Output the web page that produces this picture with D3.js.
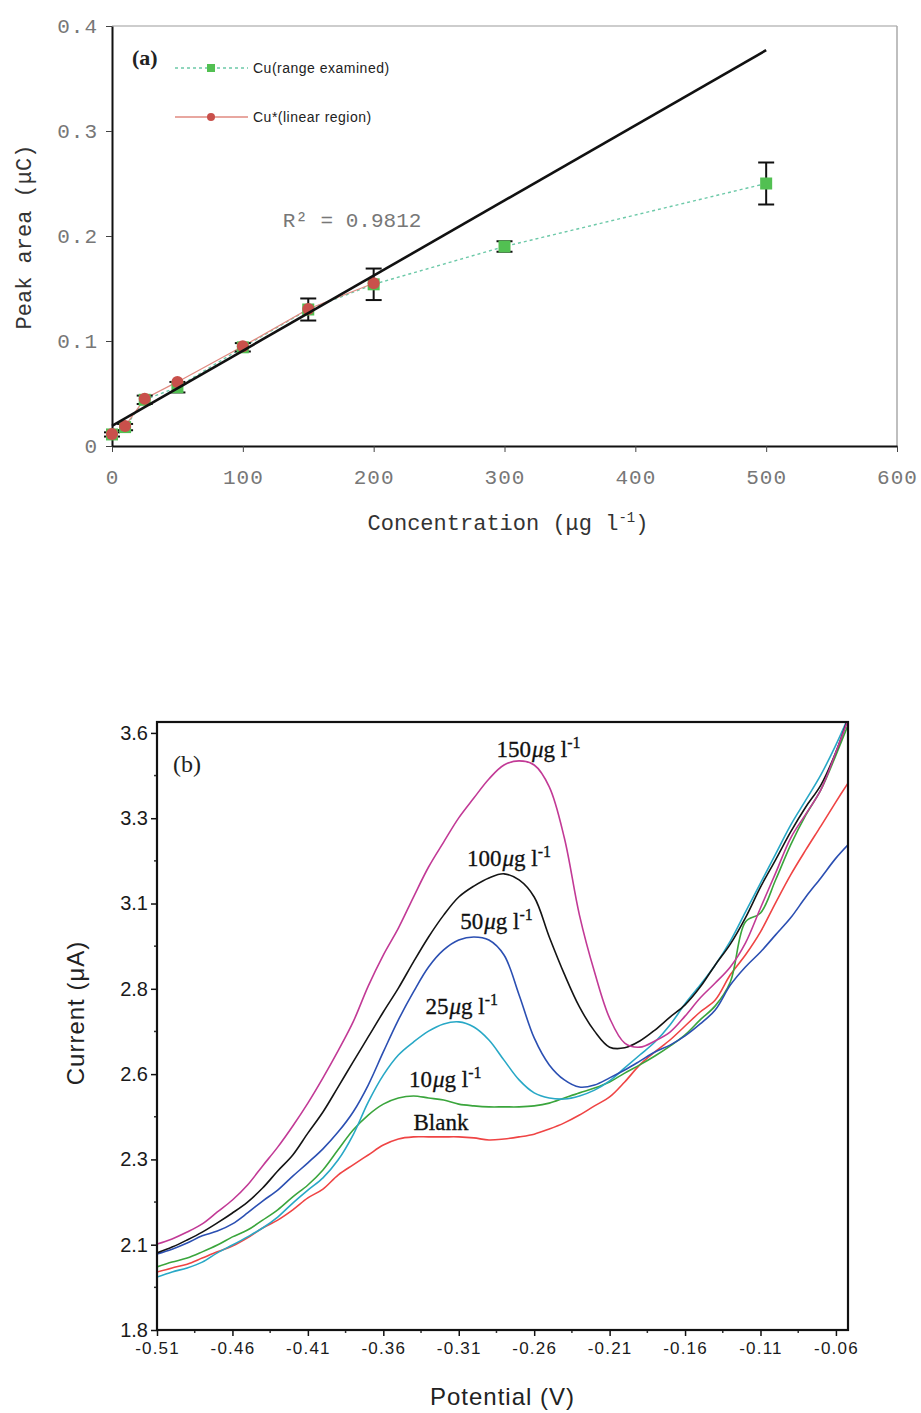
<!DOCTYPE html>
<html>
<head>
<meta charset="utf-8">
<script src="https://cdn.jsdelivr.net/npm/d3@7"></script>
<style>
  body { margin: 0; background: #fff; }
  svg { display: block; }
</style>
</head>
<body>
<div id="chart"></div>
<script>
// ---- (a) calibration: peak area vs concentration ----
const concentration = [0, 10, 25, 50, 100, 150, 200, 300, 500]
const areaExamined = [0.011, 0.018, 0.044, 0.056, 0.094, 0.130, 0.154, 0.190, 0.250]
const areaError = [0.002, 0.003, 0.004, 0.005, 0.004, 0.0105, 0.015, 0.005, 0.020]
const concentrationLinear = [0, 10, 25, 50, 100, 150, 200]
const areaLinear = [0.0115, 0.019, 0.045, 0.061, 0.095, 0.1305, 0.155]
const concTicks = [0, 100, 200, 300, 400, 500, 600]
const areaTicks = [0, 0.1, 0.2, 0.3, 0.4]
const areaTickLabels = ['0', '0.1', '0.2', '0.3', '0.4']

// ---- (b) stripping voltammograms ----
const potential = [-0.51, -0.50, -0.49, -0.48, -0.47, -0.46, -0.45, -0.44, -0.43, -0.42,
  -0.41, -0.40, -0.39, -0.38, -0.37, -0.36, -0.35, -0.34, -0.33, -0.32,
  -0.31, -0.30, -0.29, -0.28, -0.27, -0.26, -0.25, -0.24, -0.23, -0.22,
  -0.21, -0.20, -0.19, -0.18, -0.17, -0.16, -0.15, -0.14, -0.13, -0.12,
  -0.11, -0.10, -0.09, -0.08, -0.07, -0.06, -0.052]
const currentBlank = [1.970, 1.982, 1.993, 2.011, 2.029, 2.046, 2.070, 2.099, 2.122, 2.152,
  2.187, 2.213, 2.254, 2.284, 2.313, 2.342, 2.360, 2.366, 2.366, 2.366,
  2.366, 2.363, 2.357, 2.360, 2.366, 2.374, 2.389, 2.407, 2.430, 2.457,
  2.483, 2.527, 2.577, 2.615, 2.650, 2.691, 2.732, 2.767, 2.841, 2.899,
  2.967, 3.052, 3.134, 3.207, 3.277, 3.348, 3.403]
const current10 = [1.985, 1.999, 2.011, 2.029, 2.049, 2.073, 2.093, 2.122, 2.152, 2.190,
  2.225, 2.269, 2.328, 2.386, 2.430, 2.462, 2.480, 2.486, 2.480, 2.474,
  2.462, 2.457, 2.454, 2.454, 2.454, 2.457, 2.465, 2.480, 2.495, 2.509,
  2.527, 2.553, 2.577, 2.603, 2.632, 2.665, 2.709, 2.750, 2.820, 2.996,
  3.022, 3.119, 3.222, 3.309, 3.383, 3.485, 3.573]
const current25 = [1.955, 1.970, 1.982, 1.999, 2.026, 2.049, 2.073, 2.099, 2.131, 2.172,
  2.210, 2.246, 2.298, 2.372, 2.468, 2.547, 2.606, 2.644, 2.676, 2.697,
  2.703, 2.688, 2.650, 2.591, 2.533, 2.495, 2.480, 2.477, 2.486, 2.503,
  2.530, 2.568, 2.606, 2.644, 2.694, 2.756, 2.811, 2.870, 2.940, 3.025,
  3.110, 3.195, 3.280, 3.353, 3.427, 3.515, 3.594]
const current50 = [2.023, 2.037, 2.055, 2.076, 2.090, 2.111, 2.143, 2.178, 2.210, 2.251,
  2.290, 2.331, 2.380, 2.439, 2.518, 2.615, 2.709, 2.791, 2.864, 2.914,
  2.943, 2.952, 2.943, 2.899, 2.782, 2.656, 2.577, 2.533, 2.512, 2.518,
  2.539, 2.562, 2.588, 2.615, 2.635, 2.662, 2.697, 2.738, 2.811, 2.864,
  2.908, 2.958, 3.008, 3.069, 3.125, 3.183, 3.222]
const current100 = [2.026, 2.043, 2.064, 2.087, 2.114, 2.143, 2.175, 2.216, 2.266, 2.313,
  2.377, 2.439, 2.512, 2.586, 2.659, 2.732, 2.802, 2.879, 2.952, 3.016,
  3.069, 3.101, 3.125, 3.137, 3.119, 3.069, 2.952, 2.843, 2.747, 2.676,
  2.629, 2.627, 2.647, 2.679, 2.717, 2.753, 2.805, 2.870, 2.931, 3.008,
  3.098, 3.178, 3.260, 3.333, 3.397, 3.494, 3.594]
const current150 = [2.052, 2.067, 2.087, 2.111, 2.146, 2.181, 2.225, 2.281, 2.336, 2.398,
  2.465, 2.539, 2.618, 2.703, 2.808, 2.899, 2.978, 3.069, 3.157, 3.230,
  3.301, 3.359, 3.415, 3.456, 3.468, 3.456, 3.392, 3.242, 3.016, 2.849,
  2.714, 2.641, 2.629, 2.647, 2.673, 2.720, 2.773, 2.817, 2.864, 2.934,
  3.037, 3.139, 3.242, 3.312, 3.383, 3.494, 3.588]
const potentialTicks = [-0.51, -0.46, -0.41, -0.36, -0.31, -0.26, -0.21, -0.16, -0.11, -0.06]
const currentTicks = [1.8, 2.05, 2.3, 2.55, 2.8, 3.05, 3.3, 3.55]
const currentTickLabels = ['1.8', '2.1', '2.3', '2.6', '2.8', '3.1', '3.3', '3.6']

const mono = '"Liberation Mono", "Courier New", monospace'
const sans = '"Liberation Sans", Arial, sans-serif'
const serif = '"Liberation Serif", "Times New Roman", serif'

const svg = d3.select('#chart').append('svg')
  .attr('width', 921)
  .attr('height', 1413)

svg.append('rect').attr('width', 921).attr('height', 1413).attr('fill', '#fff')

drawCalibration(svg.append('g').attr('class', 'panel-a'))
drawVoltammograms(svg.append('g').attr('class', 'panel-b'))

function drawCalibration(g) {
  const x = d3.scaleLinear().domain([0, 600]).range([112, 897])
  const y = d3.scaleLinear().domain([0, 0.4]).range([446, 26])

  // light frame on top / right
  g.append('line')
    .attr('x1', x(0)).attr('x2', x(600))
    .attr('y1', y(0.4)).attr('y2', y(0.4))
    .attr('stroke', '#9c9c9c').attr('stroke-width', 1.2)
  g.append('line')
    .attr('x1', x(600)).attr('x2', x(600))
    .attr('y1', y(0.4)).attr('y2', y(0))
    .attr('stroke', '#aaa').attr('stroke-width', 1.5)

  const gx = g.append('g')
    .attr('transform', 'translate(0,' + y(0) + ')')
    .call(d3.axisBottom(x).tickValues(concTicks).tickSize(6).tickSizeOuter(0))
  gx.select('.domain').attr('stroke', '#111').attr('stroke-width', 2)
  gx.selectAll('.tick line').attr('stroke', '#444')
  gx.selectAll('.tick text')
    .attr('font-family', mono).attr('font-size', 21).attr('letter-spacing', 1)
    .attr('fill', '#777').attr('y', 23)

  const gy = g.append('g')
    .attr('transform', 'translate(' + x(0) + ',0)')
    .call(d3.axisLeft(y).tickValues(areaTicks).tickSize(6).tickSizeOuter(0)
      .tickFormat((d, i) => areaTickLabels[i]))
  gy.select('.domain').attr('stroke', '#111').attr('stroke-width', 2)
  gy.selectAll('.tick line').attr('stroke', '#444')
  gy.selectAll('.tick text')
    .attr('font-family', mono).attr('font-size', 21).attr('letter-spacing', 1)
    .attr('fill', '#777').attr('x', -14)

  // axis titles
  const xt = g.append('text')
    .attr('x', 508).attr('y', 530)
    .attr('text-anchor', 'middle')
    .attr('font-family', mono).attr('font-size', 22).attr('fill', '#333')
  xt.append('tspan').text('Concentration (μg l')
  xt.append('tspan').attr('dy', -8).attr('font-size', 14).text('-1')
  xt.append('tspan').attr('dy', 8).text(')')

  g.append('text')
    .attr('transform', 'translate(31,237) rotate(-90)')
    .attr('text-anchor', 'middle')
    .attr('font-family', mono).attr('font-size', 22).attr('fill', '#333')
    .text('Peak area (μC)')

  const examined = concentration.map((c, i) => ({ c, v: areaExamined[i], e: areaError[i] }))
  const linear = concentrationLinear.map((c, i) => ({ c, v: areaLinear[i] }))
  const line = d3.line().x(d => x(d.c)).y(d => y(d.v))

  g.append('path').datum(examined)
    .attr('d', line).attr('fill', 'none')
    .attr('stroke', '#6cc9a8').attr('stroke-width', 1.4)
    .attr('stroke-dasharray', '3,3')

  g.append('path').datum(linear)
    .attr('d', line).attr('fill', 'none')
    .attr('stroke', '#e08a80').attr('stroke-width', 1.3)

  // error bars
  const err = g.append('g').attr('stroke', '#111').attr('stroke-width', 2)
  examined.forEach(d => {
    err.append('line')
      .attr('x1', x(d.c)).attr('x2', x(d.c))
      .attr('y1', y(d.v - d.e)).attr('y2', y(d.v + d.e))
    ;[d.v - d.e, d.v + d.e].forEach(v => {
      err.append('line')
        .attr('x1', x(d.c) - 8).attr('x2', x(d.c) + 8)
        .attr('y1', y(v)).attr('y2', y(v))
    })
  })

  g.selectAll('.sq').data(examined).join('rect')
    .attr('class', 'sq')
    .attr('x', d => x(d.c) - 6).attr('y', d => y(d.v) - 6)
    .attr('width', 12).attr('height', 12)
    .attr('fill', '#52c052')

  g.selectAll('.dot').data(linear).join('circle')
    .attr('class', 'dot')
    .attr('cx', d => x(d.c)).attr('cy', d => y(d.v))
    .attr('r', 6)
    .attr('fill', '#c9504b')

  // least squares trend of the linear region
  const mx = d3.mean(linear, d => d.c)
  const my = d3.mean(linear, d => d.v)
  const slope = d3.sum(linear, d => (d.c - mx) * (d.v - my)) / d3.sum(linear, d => (d.c - mx) ** 2)
  const icpt = my - slope * mx
  g.append('line')
    .attr('x1', x(0)).attr('y1', y(icpt))
    .attr('x2', x(500)).attr('y2', y(icpt + slope * 500))
    .attr('stroke', '#111').attr('stroke-width', 2.6)

  g.append('text')
    .attr('x', x(130.5)).attr('y', y(0.2086))
    .attr('font-family', mono).attr('font-size', 21).attr('fill', '#777')
    .text('R² = 0.9812')

  g.append('text')
    .attr('x', x(15.3)).attr('y', y(0.3629))
    .attr('font-family', serif).attr('font-weight', 'bold').attr('font-size', 22)
    .attr('fill', '#222')
    .text('(a)')

  // legend
  const legend = g.append('g').attr('font-family', sans).attr('font-size', 14).attr('fill', '#222')
  const lg1 = legend.append('g').attr('transform', 'translate(175,68)')
  lg1.append('line').attr('x2', 73).attr('stroke', '#6cc9a8').attr('stroke-width', 1.3).attr('stroke-dasharray', '3,3')
  lg1.append('rect').attr('x', 32).attr('y', -4).attr('width', 8).attr('height', 8).attr('fill', '#52c052')
  lg1.append('text').attr('x', 78).attr('y', 5).attr('letter-spacing', 0.5).text('Cu(range examined)')

  const lg2 = legend.append('g').attr('transform', 'translate(175,117)')
  lg2.append('line').attr('x2', 73).attr('stroke', '#e08a80').attr('stroke-width', 1.3)
  lg2.append('circle').attr('cx', 36).attr('r', 4).attr('fill', '#c9504b')
  lg2.append('text').attr('x', 78).attr('y', 5).attr('letter-spacing', 0.5).text('Cu*(linear region)')
}

function drawVoltammograms(g) {
  const x = d3.scaleLinear().domain([-0.51, -0.052]).range([157, 848])
  const y = d3.scaleLinear().domain([1.8, 3.582]).range([1330, 722])

  const traces = [
    { values: currentBlank, color: '#ef4444' },
    { values: current10, color: '#3aa53c' },
    { values: current25, color: '#28a8c6' },
    { values: current50, color: '#2b4fb2' },
    { values: current100, color: '#141414' },
    { values: current150, color: '#c23a96' }
  ]

  g.append('clipPath').attr('id', 'clip-b')
    .append('rect')
    .attr('x', x.range()[0]).attr('y', y.range()[1])
    .attr('width', x.range()[1] - x.range()[0])
    .attr('height', y.range()[0] - y.range()[1])

  const line = d3.line()
    .x((d, i) => x(potential[i]))
    .y(d => y(d))
    .curve(d3.curveCatmullRom.alpha(0.5))

  g.append('g').attr('clip-path', 'url(#clip-b)')
    .selectAll('path').data(traces).join('path')
    .attr('d', d => line(d.values))
    .attr('fill', 'none')
    .attr('stroke', d => d.color)
    .attr('stroke-width', 1.6)

  // axes
  const gy = g.append('g')
    .attr('transform', 'translate(' + x.range()[0] + ',0)')
    .call(d3.axisLeft(y).tickValues(currentTicks).tickSize(6).tickSizeOuter(0)
      .tickFormat((d, i) => currentTickLabels[i]))
  gy.select('.domain').remove()
  gy.selectAll('.tick line').attr('stroke', '#111').attr('stroke-width', 1.5)
  gy.selectAll('.tick text')
    .attr('font-family', sans).attr('font-size', 20).attr('fill', '#1a1a1a').attr('x', -9)

  const gx = g.append('g')
    .attr('transform', 'translate(0,' + y.range()[0] + ')')
    .call(d3.axisBottom(x).tickValues(potentialTicks).tickSize(6).tickSizeOuter(0)
      .tickFormat(d => d.toFixed(2)))
  gx.select('.domain').remove()
  gx.selectAll('.tick line').attr('stroke', '#111').attr('stroke-width', 1.5)
  gx.selectAll('.tick text')
    .attr('font-family', sans).attr('font-size', 17).attr('letter-spacing', 1.2)
    .attr('fill', '#1a1a1a').attr('y', 12)

  // minor ticks halfway between the labelled ones
  const minorY = currentTicks.slice(0, -1).map((d, i) => (d + currentTicks[i + 1]) / 2)
  const minorX = potentialTicks.slice(0, -1).map((d, i) => (d + potentialTicks[i + 1]) / 2)
  g.append('g').selectAll('line').data(minorY).join('line')
    .attr('x1', x.range()[0] - 3).attr('x2', x.range()[0])
    .attr('y1', d => y(d)).attr('y2', d => y(d))
    .attr('stroke', '#333').attr('stroke-width', 1.5)
  g.append('g').selectAll('line').data(minorX).join('line')
    .attr('x1', d => x(d)).attr('x2', d => x(d))
    .attr('y1', y.range()[0]).attr('y2', y.range()[0] + 3)
    .attr('stroke', '#333').attr('stroke-width', 1.5)

  g.append('rect')
    .attr('x', x.range()[0]).attr('y', y.range()[1])
    .attr('width', x.range()[1] - x.range()[0])
    .attr('height', y.range()[0] - y.range()[1])
    .attr('fill', 'none').attr('stroke', '#111').attr('stroke-width', 2.2)

  g.append('text')
    .attr('x', d3.mean(x.range())).attr('y', 1405)
    .attr('text-anchor', 'middle')
    .attr('font-family', sans).attr('font-size', 24).attr('letter-spacing', 1)
    .attr('fill', '#222')
    .text('Potential (V)')

  g.append('text')
    .attr('transform', 'translate(84,1013) rotate(-90)')
    .attr('text-anchor', 'middle')
    .attr('font-family', sans).attr('font-size', 24).attr('letter-spacing', 1)
    .attr('fill', '#222')
    .text('Current (μA)')

  g.append('text')
    .attr('x', x(-0.4994)).attr('y', y(3.435))
    .attr('font-family', serif).attr('font-size', 24).attr('fill', '#222')
    .text('(b)')

  // concentration labels on the peaks
  const labels = [
    { conc: '150', v: -0.285, i: 3.479 },
    { conc: '100', v: -0.3045, i: 3.160 },
    { conc: '50', v: -0.309, i: 2.975 },
    { conc: '25', v: -0.332, i: 2.726 },
    { conc: '10', v: -0.343, i: 2.512 }
  ]
  labels.forEach(d => {
    const t = g.append('text')
      .attr('x', x(d.v)).attr('y', y(d.i))
      .attr('font-family', serif).attr('font-size', 23).attr('fill', '#111')
      .attr('stroke', '#111').attr('stroke-width', 0.3)
    t.append('tspan').text(d.conc)
    t.append('tspan').attr('font-style', 'italic').attr('dx', 1).text('μ')
    t.append('tspan').text('g l')
    t.append('tspan').attr('dy', -9).attr('font-size', 16).text('-1')
  })
  g.append('text')
    .attr('x', x(-0.340)).attr('y', y(2.386))
    .attr('font-family', serif).attr('font-size', 23).attr('fill', '#111')
    .attr('stroke', '#111').attr('stroke-width', 0.3)
    .text('Blank')
}
</script>
</body>
</html>
